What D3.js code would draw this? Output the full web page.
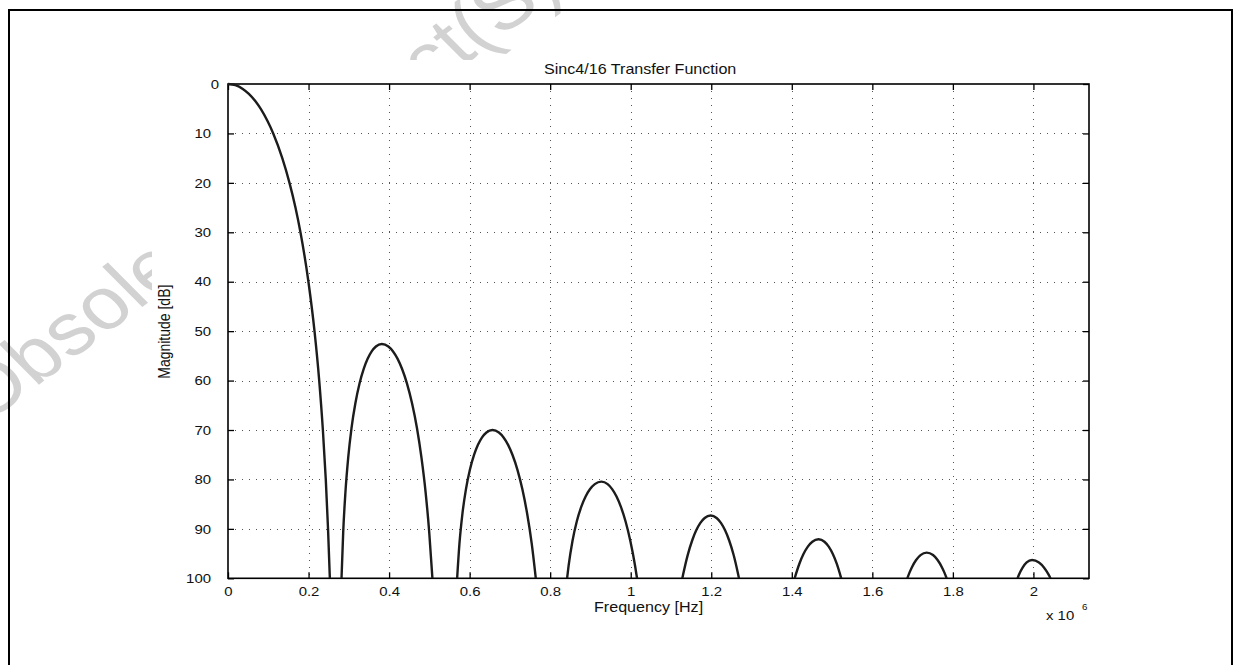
<!DOCTYPE html>
<html>
<head>
<meta charset="utf-8">
<script src="https://cdn.jsdelivr.net/npm/d3@7"></script>
<style>
  html, body { margin: 0; padding: 0; background: #fff; }
  svg { display: block; }
</style>
</head>
<body>
<svg id="chart" width="1239" height="665"></svg>
<script>
// ---------- data (frequency in MHz, i.e. x 10^6 Hz; magnitude attenuation in dB) ----------
const titleText = "Sinc4/16 Transfer Function";
const xLabelText = "Frequency [Hz]";
const yLabelText = "Magnitude [dB]";
const watermarkText = "Obsolete Product(S)";

const xTicks = [0, 0.2, 0.4, 0.6, 0.8, 1, 1.2, 1.4, 1.6, 1.8, 2];
const xTickLabels = ["0", "0.2", "0.4", "0.6", "0.8", "1", "1.2", "1.4", "1.6", "1.8", "2"];
const yTicks = [0, 10, 20, 30, 40, 50, 60, 70, 80, 90, 100];
const yTickLabels = ["0", "10", "20", "30", "40", "50", "60", "70", "80", "90", "100"];

// main lobe
const lobe0 = [[0,0],[0.0184,0.25],[0.0367,1],[0.0518,2],[0.0682,3.5],[0.081,5],[0.0981,7.5],[0.1123,10],
  [0.1348,15],[0.1527,20],[0.1675,25],[0.1799,30],[0.1997,40],[0.2148,50],[0.2265,60],[0.2356,70],
  [0.2428,80],[0.2484,90],[0.2529,100]];
// side lobes
const lobe1 = [[0.2819,100],[0.2861,90.6],[0.2916,82.6],[0.2985,75.6],[0.3067,69.6],[0.3163,64.6],
  [0.3266,60.6],[0.3372,57.6],[0.3467,55.6],[0.3568,54.1],[0.3673,53.1],[0.382,52.6],
  [0.3982,53.1],[0.4099,54.1],[0.4212,55.6],[0.4321,57.6],[0.4445,60.6],[0.457,64.6],
  [0.4692,69.6],[0.4804,75.6],[0.4907,82.6],[0.4996,90.6],[0.5076,100]];
const lobe2 = [[0.569,100],[0.5747,93],[0.582,87],[0.5908,82],[0.6008,78],[0.6112,75],[0.6207,73],
  [0.6309,71.5],[0.6417,70.5],[0.6567,70],[0.6727,70.5],[0.6843,71.5],[0.6955,73],[0.7063,75],
  [0.7186,78],[0.731,82],[0.743,87],[0.7542,93],[0.7643,100]];
const lobe3 = [[0.842,100],[0.8458,97.45],[0.8554,92.45],[0.8662,88.45],[0.8776,85.45],[0.888,83.45],
  [0.8991,81.95],[0.9108,80.95],[0.9272,80.45],[0.9427,80.95],[0.9539,81.95],[0.9648,83.45],
  [0.9752,85.45],[0.9871,88.45],[0.9991,92.45],[1.0108,97.45],[1.0157,100]];
const lobe4 = [[1.1282,100],[1.13,99.3],[1.1415,95.3],[1.1528,92.3],[1.1627,90.3],[1.173,88.8],
  [1.1837,87.8],[1.1985,87.3],[1.2133,87.8],[1.224,88.8],[1.2343,90.3],[1.2443,92.3],
  [1.2556,95.3],[1.267,99.3],[1.2688,100]];
const lobe5 = [[1.407,100],[1.4186,97.1],[1.429,95.1],[1.4398,93.6],[1.451,92.6],[1.4665,92.1],
  [1.4811,92.6],[1.4917,93.6],[1.5019,95.1],[1.5118,97.1],[1.5227,100]];
const lobe6 = [[1.6868,100],[1.6925,98.8],[1.698,97.8],[1.7087,96.3],[1.7197,95.3],[1.735,94.8],
  [1.7507,95.3],[1.762,96.3],[1.773,97.8],[1.7787,98.8],[1.7845,100]];
const lobe7 = [[1.9606,100],[1.964,99.3],[1.9735,97.8],[1.9832,96.8],[1.9967,96.3],
  [2.0138,96.8],[2.0261,97.8],[2.0381,99.3],[2.0424,100]];
const lobes = [lobe0, lobe1, lobe2, lobe3, lobe4, lobe5, lobe6, lobe7];

// ---------- layout ----------
const W = 1239, H = 665;
const plot = { left: 228, right: 1089, top: 84, bottom: 578.3 };
const FONT = "'Liberation Sans', Arial, Helvetica, sans-serif";
const SX = 1.15; // horizontal text stretch seen in the reference

const svg = d3.select("#chart");
svg.append("rect").attr("x", 0).attr("y", 0).attr("width", W).attr("height", H).attr("fill", "#fff");

// watermark (mostly hidden behind the white figure area)
svg.append("g")
  .attr("transform", "translate(-15,425) scale(1.15,1) rotate(-40.8)")
  .append("text")
  .attr("x", 0).attr("y", 0)
  .attr("font-family", FONT)
  .attr("font-size", 73.5)
  .attr("fill", "#d2d2d2")
  .text(watermarkText);

// white figure area covering the watermark
svg.append("rect")
  .attr("x", 152).attr("y", 60)
  .attr("width", W - 152).attr("height", H - 60)
  .attr("fill", "#fff");

// outer frame
svg.append("rect")
  .attr("x", 9).attr("y", 10)
  .attr("width", 1232 - 9).attr("height", 680)
  .attr("fill", "none").attr("stroke", "#000").attr("stroke-width", 2);

const x = d3.scaleLinear().domain([0, 2.138]).range([plot.left, plot.right]);
const y = d3.scaleLinear().domain([0, 100]).range([plot.top, plot.bottom]);

// grid
const grid = svg.append("g").attr("stroke", "#555").attr("stroke-width", 1)
  .attr("stroke-dasharray", "1,6");
grid.selectAll("line.vx").data(xTicks.filter(d => d > 0)).enter().append("line")
  .attr("x1", d => Math.round(x(d)) + 0.5).attr("x2", d => Math.round(x(d)) + 0.5)
  .attr("y1", plot.top).attr("y2", plot.bottom);
grid.selectAll("line.hy").data(yTicks.filter(d => d > 0 && d < 100)).enter().append("line")
  .attr("y1", d => Math.round(y(d)) + 0.5).attr("y2", d => Math.round(y(d)) + 0.5)
  .attr("x1", plot.left).attr("x2", plot.right);

// axes
function styleAxis(g) {
  g.selectAll("path.domain").remove();
  g.selectAll(".tick line").attr("stroke", "#000").attr("stroke-width", 1.3);
  g.selectAll(".tick text").attr("font-family", FONT).attr("font-size", 13).attr("fill", "#111");
}
const xAxis = svg.append("g").attr("transform", `translate(0,${plot.bottom})`)
  .call(d3.axisBottom(x).tickValues(xTicks).tickFormat((d, i) => xTickLabels[i])
    .tickSize(-6).tickSizeOuter(0).tickPadding(8.5));
styleAxis(xAxis);
xAxis.selectAll(".tick text").attr("transform", `scale(${SX},1)`);

const yAxis = svg.append("g").attr("transform", `translate(${plot.left},0)`)
  .call(d3.axisLeft(y).tickValues(yTicks).tickFormat((d, i) => yTickLabels[i])
    .tickSize(-6).tickSizeOuter(0).tickPadding(17));
styleAxis(yAxis);
yAxis.selectAll(".tick text").each(function(d) {
  const t = d3.select(this);
  const shift = d === 0 ? 8 : 0;
  t.attr("x", 0).attr("transform", `translate(${-17 + shift},0) scale(${SX},1)`);
});

const xTop = svg.append("g").attr("transform", `translate(0,${plot.top})`)
  .call(d3.axisTop(x).tickValues(xTicks).tickFormat("").tickSize(-6).tickSizeOuter(0));
styleAxis(xTop);
const yRight = svg.append("g").attr("transform", `translate(${plot.right},0)`)
  .call(d3.axisRight(y).tickValues(yTicks).tickFormat("").tickSize(-6).tickSizeOuter(0));
styleAxis(yRight);

// box
svg.append("rect")
  .attr("x", plot.left).attr("y", plot.top)
  .attr("width", plot.right - plot.left).attr("height", plot.bottom - plot.top)
  .attr("fill", "none").attr("stroke", "#000").attr("stroke-width", 1.6);

// clip
svg.append("clipPath").attr("id", "clip").append("rect")
  .attr("x", plot.left).attr("y", plot.top - 2)
  .attr("width", plot.right - plot.left).attr("height", plot.bottom - plot.top + 2);

const line = d3.line().x(d => x(d[0])).y(d => y(d[1])).curve(d3.curveMonotoneX);
svg.append("g").attr("clip-path", "url(#clip)")
  .selectAll("path").data(lobes).enter().append("path")
  .attr("d", line)
  .attr("fill", "none").attr("stroke", "#1c1c1c").attr("stroke-width", 2.4)
  .attr("stroke-linejoin", "round");

// texts
function stext(tx, ty, str, size, anchor, rot) {
  const g = svg.append("g").attr("transform", `translate(${tx},${ty}) scale(${SX},1)` + (rot ? ` rotate(${rot})` : ""));
  return g.append("text").attr("x", 0).attr("y", 0)
    .attr("font-family", FONT).attr("font-size", size).attr("fill", "#111")
    .attr("text-anchor", anchor).text(str);
}
stext(544, 74, titleText, 14, "start");
stext(594, 612, xLabelText, 14, "start");
stext(170, 331.7, yLabelText, 14, "middle", -90);
stext(1046, 620, "x 10", 13, "start");
stext(1082, 610, "6", 8.5, "start");
</script>
</body>
</html>
